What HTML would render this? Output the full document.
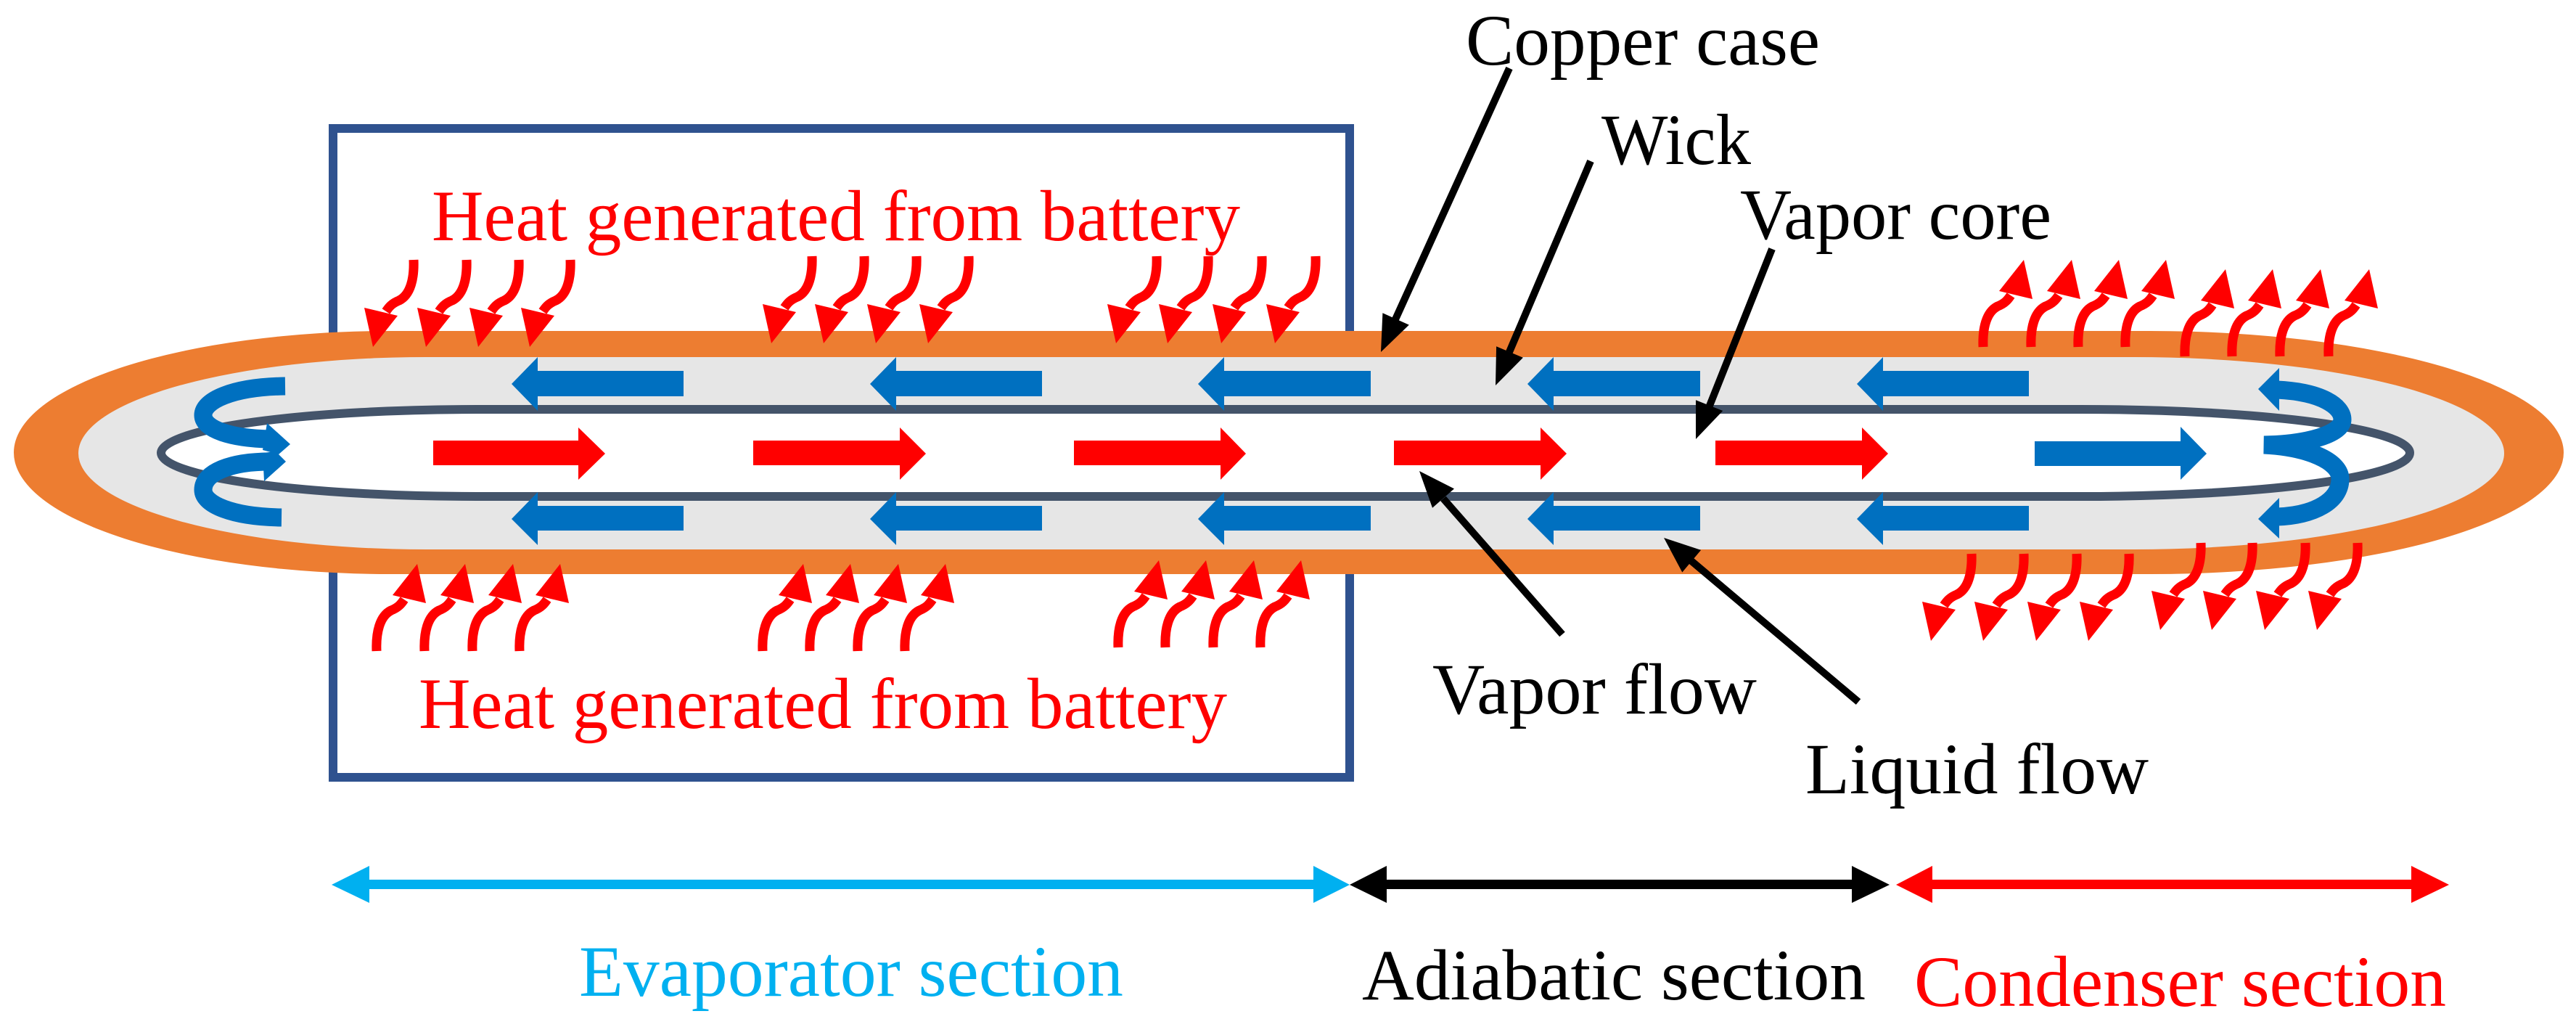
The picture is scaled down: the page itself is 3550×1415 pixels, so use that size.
<!DOCTYPE html>
<html><head><meta charset="utf-8"><style>
html,body{margin:0;padding:0;background:#fff;}
svg{display:block;}
</style></head><body>
<svg width="3550" height="1415" viewBox="0 0 3550 1415" xmlns="http://www.w3.org/2000/svg">
<defs>
<g id="hu">
<path d="M -56,120 C -57,95 -52,72 -36,64 C -26,60 -22,55 -18,49" fill="none" stroke="#FF0000" stroke-width="13"/>
<polygon points="0,0 -34,43 12,54" fill="#FF0000"/>
</g>
<g id="hd"><use href="#hu" transform="scale(-1,-1)"/></g>
</defs>

<rect x="459" y="177" width="1401" height="894" fill="none" stroke="#2F528F" stroke-width="12"/>

<path d="M 539,456 L 2963,456 A 570,167.5 0 0 1 2963,791 L 539,791 A 520,167.5 0 0 1 539,456 Z" fill="#ED7D31"/>
<path d="M 588,492 L 2941,492 A 510,132.5 0 0 1 2941,757 L 588,757 A 480,132.5 0 0 1 588,492 Z" fill="#E6E6E6"/>
<path d="M 657,564 L 2867,564 A 454,60 0 0 1 2867,684 L 657,684 A 435,60 0 0 1 657,564 Z" fill="#fff" stroke="#44546A" stroke-width="12"/>

<g fill="#0070C0">
<polygon points="705,529 741,492 741,511 942,511 942,546 741,546 741,566"/>
<polygon points="1199,529 1235,492 1235,511 1436,511 1436,546 1235,546 1235,566"/>
<polygon points="1651,529 1687,492 1687,511 1889,511 1889,546 1687,546 1687,566"/>
<polygon points="2105,529 2141,492 2141,511 2343,511 2343,546 2141,546 2141,566"/>
<polygon points="2559,529 2595,492 2595,511 2796,511 2796,546 2595,546 2595,566"/>
<polygon points="705,715 741,678 741,697 942,697 942,731 741,731 741,751"/>
<polygon points="1199,715 1235,678 1235,697 1436,697 1436,731 1235,731 1235,751"/>
<polygon points="1651,715 1687,678 1687,697 1889,697 1889,731 1687,731 1687,751"/>
<polygon points="2105,715 2141,678 2141,697 2343,697 2343,731 2141,731 2141,751"/>
<polygon points="2559,715 2595,678 2595,697 2796,697 2796,731 2595,731 2595,751"/>
<polygon points="2804,608 3005,608 3005,588 3041,625 3005,661 3005,642 2804,642"/>
</g>
<g fill="#FF0000">
<polygon points="597,607 797,607 797,589 834,625 797,661 797,641 597,641"/>
<polygon points="1038,607 1240,607 1240,589 1276,625 1240,661 1240,641 1038,641"/>
<polygon points="1480,607 1682,607 1682,589 1717,625 1682,661 1682,641 1480,641"/>
<polygon points="1921,607 2123,607 2123,589 2159,625 2123,661 2123,641 1921,641"/>
<polygon points="2364,607 2566,607 2566,589 2602,625 2566,661 2566,641 2364,641"/>
</g>

<g fill="none" stroke="#0070C0" stroke-width="25">
<path d="M 393,532 C 320,533 280,552 280,572 C 280,592 320,604 372,605"/>
<path d="M 388,713 C 320,712 280,695 280,675 C 280,650 320,636 372,636"/>
<path d="M 3138,537 C 3200,540 3228,560 3228,578 C 3228,598 3180,612 3120,613 C 3180,616 3225,635 3225,660 C 3225,690 3190,710 3138,712"/>
</g>
<g fill="#0070C0">
<polygon points="368,583 400,612 384,626 362,620"/>
<polygon points="362,624 380,622 394,636 364,663"/>
<polygon points="3112,536 3141,507 3141,566"/>
<polygon points="3112,715 3141,686 3141,742"/>
</g>

<g>
<use href="#hd" transform="translate(514,478)"/>
<use href="#hd" transform="translate(587,478)"/>
<use href="#hd" transform="translate(659,478)"/>
<use href="#hd" transform="translate(730,478)"/>
<use href="#hd" transform="translate(1063,473)"/>
<use href="#hd" transform="translate(1135,473)"/>
<use href="#hd" transform="translate(1207,473)"/>
<use href="#hd" transform="translate(1279,473)"/>
<use href="#hd" transform="translate(1538,473)"/>
<use href="#hd" transform="translate(1609,473)"/>
<use href="#hd" transform="translate(1683,473)"/>
<use href="#hd" transform="translate(1757,473)"/>
<use href="#hu" transform="translate(575,777)"/>
<use href="#hu" transform="translate(641,777)"/>
<use href="#hu" transform="translate(707,777)"/>
<use href="#hu" transform="translate(772,777)"/>
<use href="#hu" transform="translate(1107,777)"/>
<use href="#hu" transform="translate(1172,777)"/>
<use href="#hu" transform="translate(1238,777)"/>
<use href="#hu" transform="translate(1303,777)"/>
<use href="#hu" transform="translate(1597,772)"/>
<use href="#hu" transform="translate(1662,772)"/>
<use href="#hu" transform="translate(1728,772)"/>
<use href="#hu" transform="translate(1793,772)"/>
<use href="#hu" transform="translate(2789,358)"/>
<use href="#hu" transform="translate(2855,358)"/>
<use href="#hu" transform="translate(2920,358)"/>
<use href="#hu" transform="translate(2985,358)"/>
<use href="#hu" transform="translate(3067,371)"/>
<use href="#hu" transform="translate(3132,371)"/>
<use href="#hu" transform="translate(3198,371)"/>
<use href="#hu" transform="translate(3265,371)"/>
<use href="#hd" transform="translate(2661,883)"/>
<use href="#hd" transform="translate(2733,883)"/>
<use href="#hd" transform="translate(2806,883)"/>
<use href="#hd" transform="translate(2878,883)"/>
<use href="#hd" transform="translate(2977,868)"/>
<use href="#hd" transform="translate(3048,868)"/>
<use href="#hd" transform="translate(3121,868)"/>
<use href="#hd" transform="translate(3193,868)"/>
</g>

<g stroke="#000" stroke-width="10" fill="none">
<line x1="2080" y1="94" x2="1923" y2="440"/>
<line x1="2192" y1="222" x2="2080" y2="485"/>
<line x1="2442" y1="343" x2="2356" y2="559"/>
<line x1="2153" y1="874" x2="1989" y2="687"/>
<line x1="2561" y1="967" x2="2331" y2="773"/>
</g>
<g fill="#000">
<polygon points="1903,485 1941.8,447.6 1905.4,431.2"/>
<polygon points="2061,531 2098.9,492.8 2062.1,477.2"/>
<polygon points="2337,605 2374.2,566 2337,551.2"/>
<polygon points="1956,649 2004,673.4 1974,699.8"/>
<polygon points="2293,741 2344.1,757.9 2318.3,788.5"/>
</g>

<g>
<rect x="500" y="1212" width="1320" height="13" fill="#00B0F0"/>
<polygon points="457,1219 509,1193 509,1244" fill="#00B0F0"/>
<polygon points="1860,1219 1810,1193 1810,1244" fill="#00B0F0"/>
<rect x="1900" y="1212" width="660" height="13" fill="#000"/>
<polygon points="1860,1219 1911,1193 1911,1244" fill="#000"/>
<polygon points="2604,1219 2552,1193 2552,1244" fill="#000"/>
<rect x="2655" y="1212" width="675" height="13" fill="#FF0000"/>
<polygon points="2613,1219 2663,1193 2663,1244" fill="#FF0000"/>
<polygon points="3375,1219 3323,1193 3323,1244" fill="#FF0000"/>
</g>

<g font-family="'Liberation Serif', 'Times New Roman', serif" font-size="100">
<text x="595" y="331" fill="#FF0000" textLength="1114" lengthAdjust="spacingAndGlyphs">Heat generated from battery</text>
<text x="577" y="1003" fill="#FF0000" textLength="1114" lengthAdjust="spacingAndGlyphs">Heat generated from battery</text>
<text x="2020" y="89" fill="#000" textLength="488" lengthAdjust="spacingAndGlyphs">Copper case</text>
<text x="2207" y="226" fill="#000" textLength="206" lengthAdjust="spacingAndGlyphs">Wick</text>
<text x="2398" y="329" fill="#000" textLength="429" lengthAdjust="spacingAndGlyphs">Vapor core</text>
<text x="1974" y="983" fill="#000" textLength="447" lengthAdjust="spacingAndGlyphs">Vapor flow</text>
<text x="2488" y="1093" fill="#000" textLength="473" lengthAdjust="spacingAndGlyphs">Liquid flow</text>
<text x="798" y="1372" fill="#00B0F0" textLength="750" lengthAdjust="spacingAndGlyphs">Evaporator section</text>
<text x="1877" y="1377" fill="#000" textLength="694" lengthAdjust="spacingAndGlyphs">Adiabatic section</text>
<text x="2638" y="1386" fill="#FF0000" textLength="733" lengthAdjust="spacingAndGlyphs">Condenser section</text>
</g>
</svg>
</body></html>
